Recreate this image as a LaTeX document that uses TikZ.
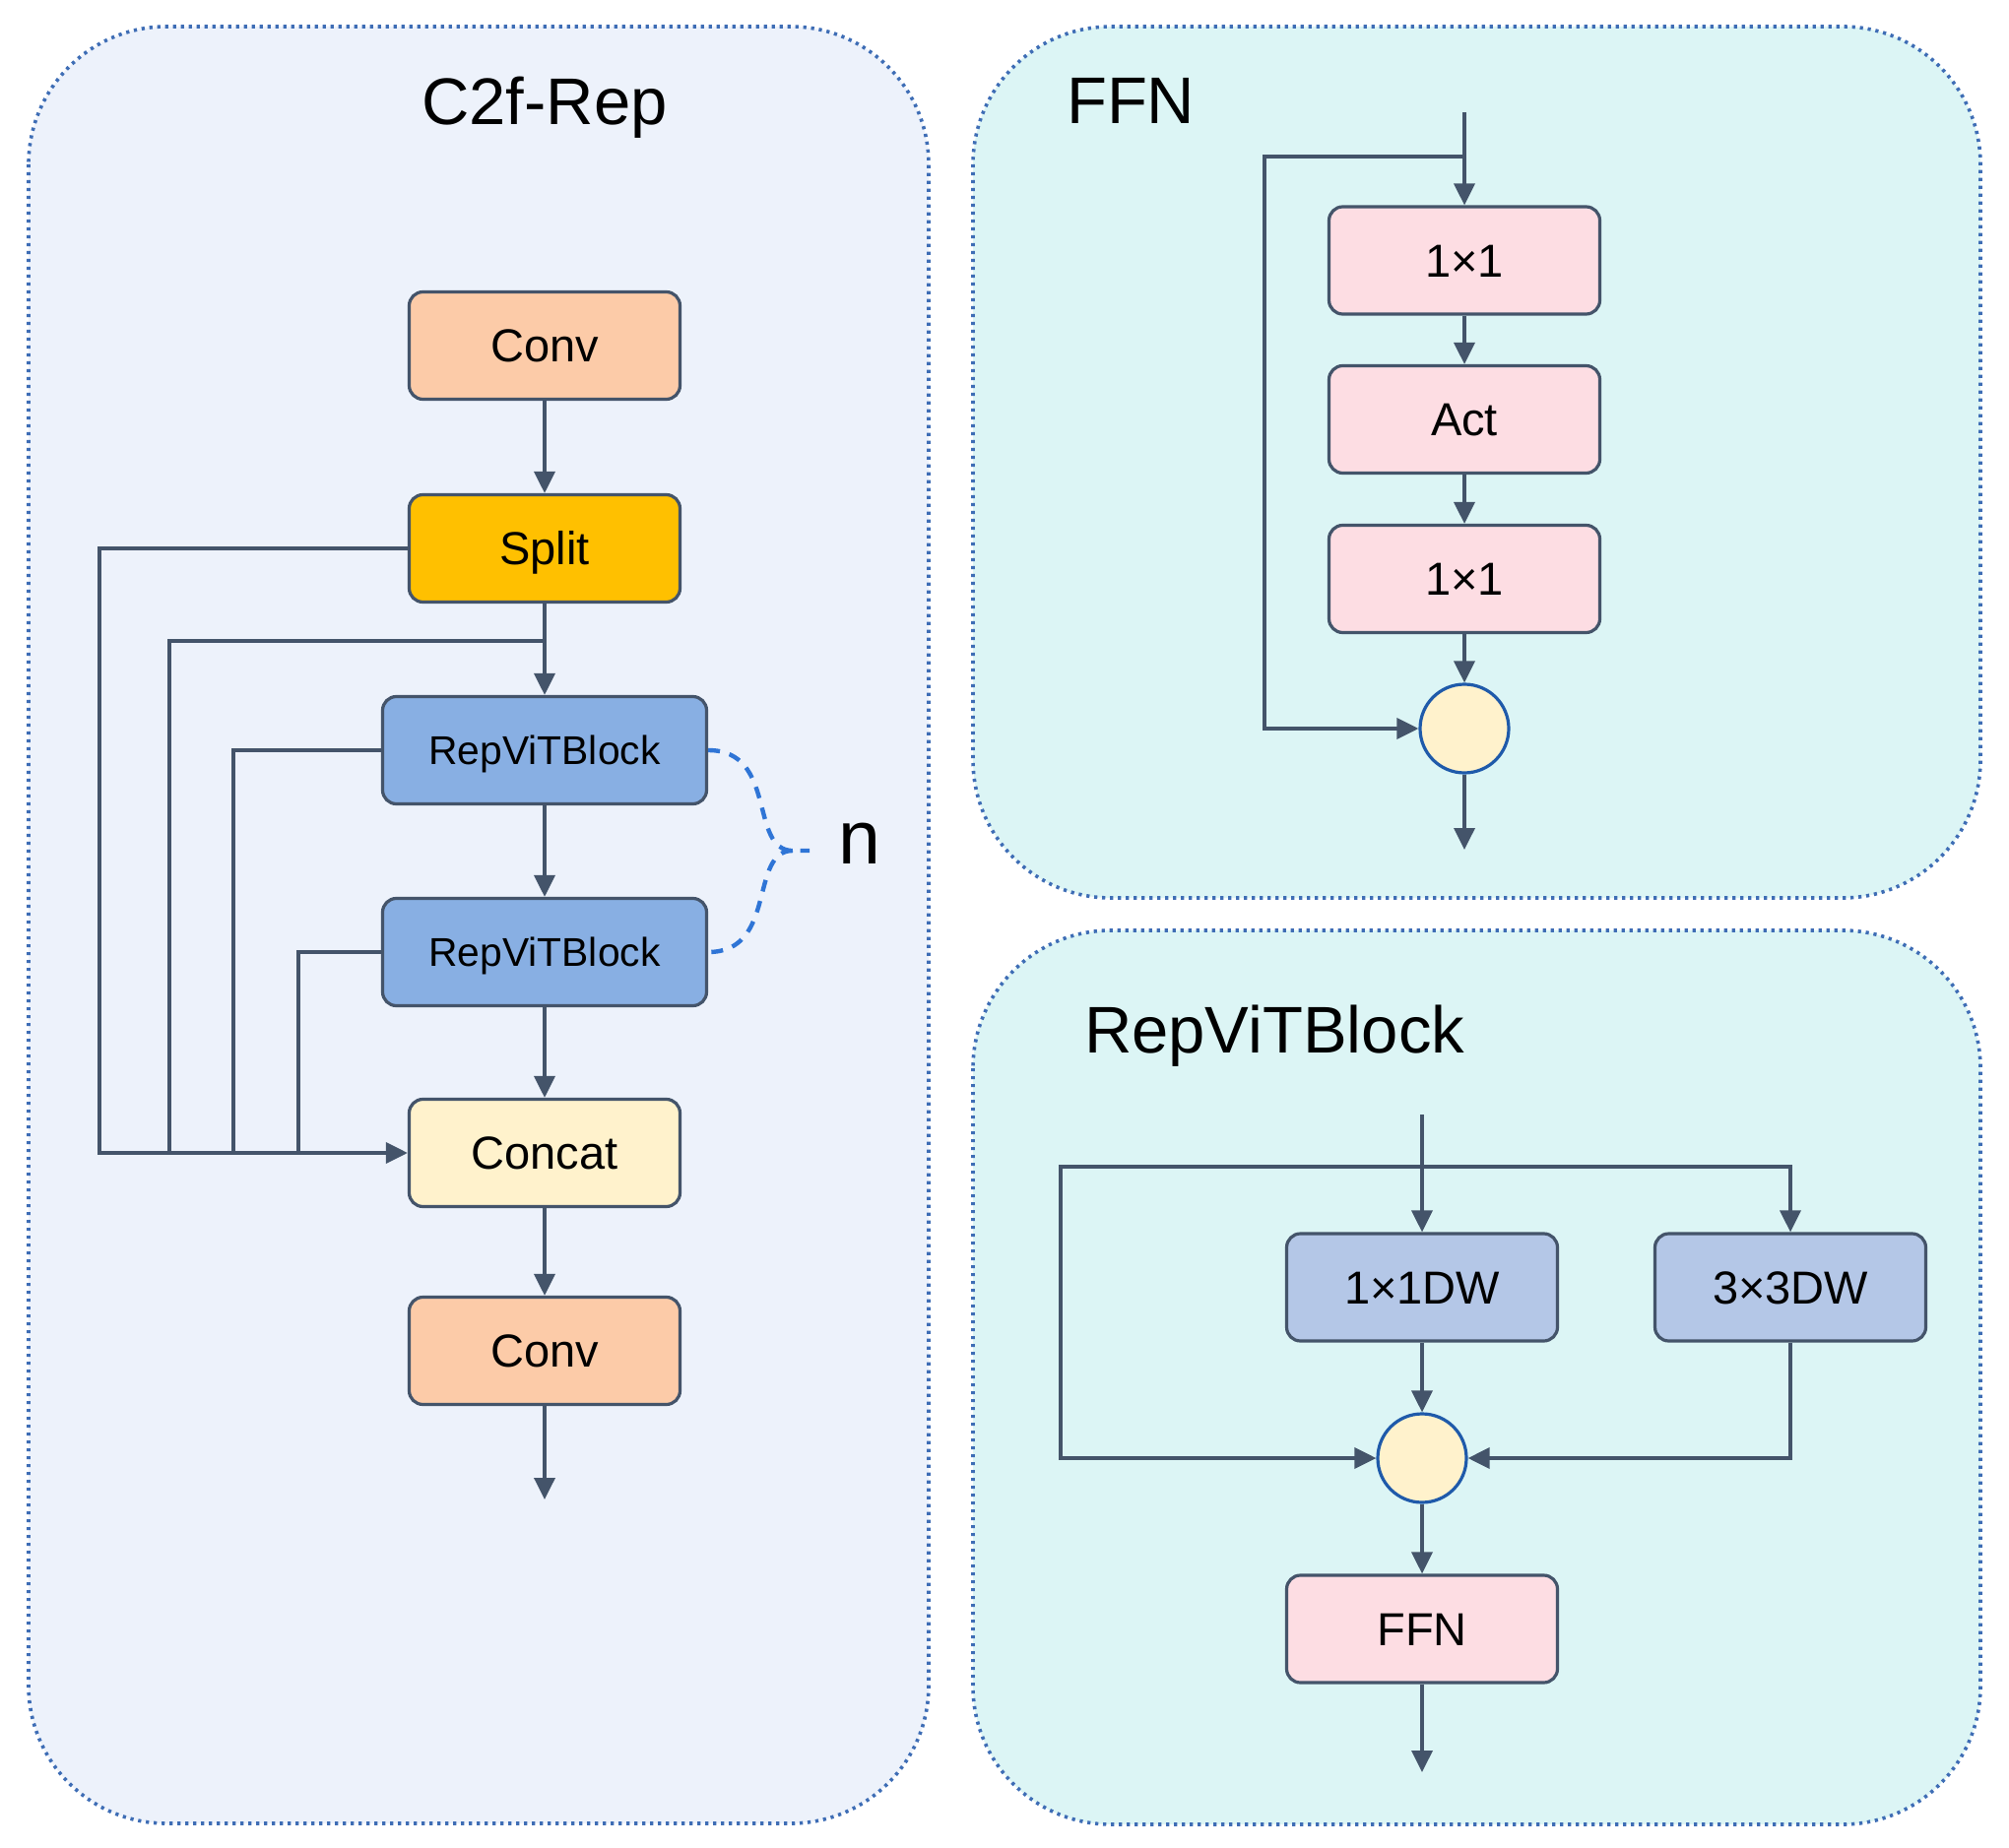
\documentclass[tikz,border=0pt]{standalone}
\usepackage{fontspec}
\setmainfont{Liberation Sans}
\usetikzlibrary{arrows.meta}

\definecolor{edgec}{HTML}{44546A}
\definecolor{panelc}{HTML}{3E6DB5}
\definecolor{leftbg}{HTML}{EDF2FB}
\definecolor{rightbg}{HTML}{DCF5F5}
\definecolor{convc}{HTML}{FCCBA8}
\definecolor{splitc}{HTML}{FFC000}
\definecolor{repc}{HTML}{88AFE3}
\definecolor{catc}{HTML}{FFF2CC}
\definecolor{ffnc}{HTML}{FDDDE3}
\definecolor{dwc}{HTML}{B4C7E7}
\definecolor{addc}{HTML}{1F5AAA}
\definecolor{bracec}{HTML}{2F75D6}

\begin{document}
\begin{tikzpicture}[x=0.5pt, y=-0.5pt, >={Triangle[length=11pt,width=10.5pt]},
    panel/.style={draw=panelc, line width=1.8pt, dash pattern=on 1.6pt off 2.4pt, rounded corners=70pt},
    blk/.style={draw=edgec, line width=1.6pt, rounded corners=7pt, minimum width=137.5pt, minimum height=54.5pt,
                inner sep=0pt, text height=16.8pt, text depth=0pt, font=\fontsize{23.5}{28}\selectfont},
    rep/.style={blk, fill=repc, minimum width=164.5pt, text height=14.6pt, font=\fontsize{20.4}{24}\selectfont},
    add/.style={circle, draw=addc, fill=catc, line width=1.6pt, minimum size=45pt, inner sep=0pt},
    link/.style={->, color=edgec, line width=1.8pt},
    wire/.style={color=edgec, line width=1.8pt},
    brace/.style={color=bracec, line width=2.2pt, dash pattern=on 6pt off 5pt},
    title/.style={anchor=base, font=\fontsize{33.5}{40}\selectfont}]

  \useasboundingbox (0,0) rectangle (2040,1877);

  % panels
  \draw[panel, fill=leftbg]  (29,27)  rectangle (943,1852);
  \draw[panel, fill=rightbg] (988,27) rectangle (2011,912);
  \draw[panel, fill=rightbg] (988,945) rectangle (2011,1853);

  \node[title] (tc2f) at (553,127) {C2f-Rep};
  \node[title, anchor=base west] (tffn) at (1076,126) {FFN};
  \node[title, anchor=base west] (trep) at (1094,1069) {RepViTBlock};

  % C2f-Rep
  \node[blk, fill=convc]  (conv1)  at (553,351)  {Conv};
  \node[blk, fill=splitc] (split)  at (553,557)  {Split};
  \node[rep]              (blk1)   at (553,762)  {RepViTBlock};
  \node[rep]              (blk2)   at (553,967)  {RepViTBlock};
  \node[blk, fill=catc]   (concat) at (553,1171) {Concat};
  \node[blk, fill=convc]  (conv2)  at (553,1372) {Conv};
  \coordinate (out1) at (553,1523);
  \coordinate (j1) at (553,651);
  \coordinate (t1) at (101,1171);
  \coordinate (t2) at (172,1171);
  \coordinate (t3) at (237,1171);
  \coordinate (t4) at (303,1171);

  \path[link] (conv1)  edge (split)
              (split)  edge (blk1)
              (blk1)   edge (blk2)
              (blk2)   edge (concat)
              (concat) edge (conv2)
              (conv2)  edge (out1);
  \draw[link] (split.west) -| (t1) -- (concat.west);
  \draw[wire] (j1) -| (t2);
  \draw[wire] (blk1.west) -| (t3);
  \draw[wire] (blk2.west) -| (t4);

  \coordinate (ntip) at (805,864);
  \coordinate (nstub) at (822,864);
  \draw[brace] (blk1.east) .. controls (790,762) and (760,864) .. (ntip) -- (nstub);
  \draw[brace] (ntip) .. controls (760,864) and (790,967) .. (blk2.east);
  \node[anchor=base, font=\fontsize{38.5}{46}\selectfont] (nlab) at (873,877) {n};

  % FFN
  \coordinate (fin) at (1487,114);
  \coordinate (fsp) at (1487,159);
  \node[blk, fill=ffnc] (f1)   at (1487,264.5) {1×1};
  \node[blk, fill=ffnc] (fact) at (1487,426)   {Act};
  \node[blk, fill=ffnc] (f2)   at (1487,588)   {1×1};
  \node[add]            (fadd) at (1487,740)   {};
  \coordinate (fout) at (1487,863);
  \coordinate (fl) at (1284,740);

  \path[link] (fin)  edge (f1)
              (f1)   edge (fact)
              (fact) edge (f2)
              (f2)   edge (fadd)
              (fadd) edge (fout);
  \draw[link] (fsp) -| (fl) -- (fadd);

  % RepViTBlock
  \coordinate (rin) at (1444,1132);
  \coordinate (rsp) at (1444,1185);
  \node[blk, fill=dwc]  (dw1)  at (1444,1307.5) {1×1DW};
  \node[blk, fill=dwc]  (dw3)  at (1818,1307.5) {3×3DW};
  \node[add]            (radd) at (1444,1481)   {};
  \node[blk, fill=ffnc] (rffn) at (1444,1654.5) {FFN};
  \coordinate (rout) at (1444,1800);
  \coordinate (rl) at (1077,1481);

  \path[link] (rin)  edge (dw1)
              (dw1)  edge (radd)
              (radd) edge (rffn)
              (rffn) edge (rout);
  \draw[link] (rsp) -| (rl) -- (radd);
  \draw[link] (rsp) -| (dw3);
  \draw[link] (dw3) |- (radd);
\end{tikzpicture}
\end{document}
